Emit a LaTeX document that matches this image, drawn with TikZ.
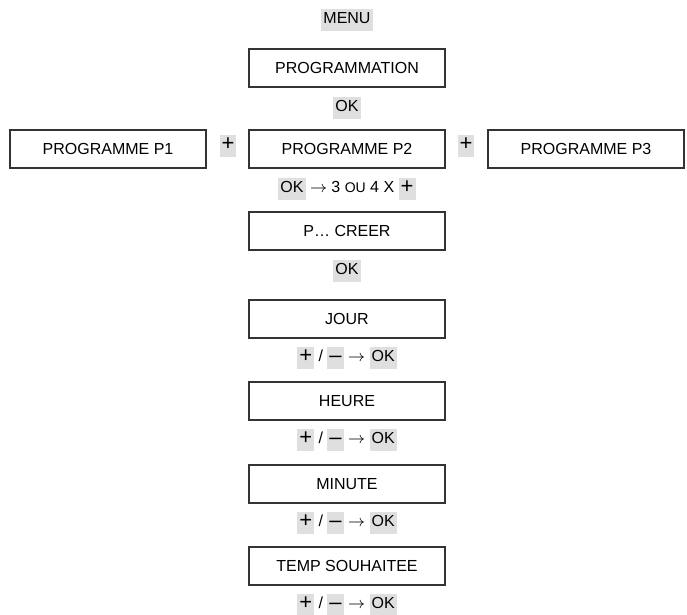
\documentclass[tikz,border=0pt]{standalone}
\usepackage{fontspec}
\setmainfont{Liberation Sans}
\newcommand{\keycap}[1]{{\setlength{\fboxsep}{1pt}\colorbox{gray!25}{\strut #1}}}
\newcommand{\bigsign}[1]{\keycap{\raisebox{-0.5pt}{\fontsize{11}{11}\selectfont #1}}}
\begin{document}
\begin{tikzpicture}[x=0.5pt,y=-0.5pt,
  font=\fontsize{8}{9}\selectfont,
  stepbox/.style={draw=black!80,line width=0.55pt,minimum width=98pt,minimum height=19pt,inner sep=0pt},
  lbl/.style={inner sep=0pt}]
\useasboundingbox (0,0) rectangle (687,615);
\node[lbl] (menu) at (347,20) {\keycap{MENU}};
\node[stepbox] (prog) at (347,68) {PROGRAMMATION};
\node[lbl] (ok1) at (347,108) {\keycap{OK}};
\node[stepbox] (p2) at (347,149) {PROGRAMME P2};
\node[stepbox] (p1) at (108,149) {PROGRAMME P1};
\node[stepbox] (p3) at (586,149) {PROGRAMME P3};
\node[lbl] (pl1) at (228,146) {\bigsign{+}};
\node[lbl] (pl2) at (466,146) {\bigsign{+}};
\node[lbl] (sel) at (347,189) {\keycap{OK} $\rightarrow$ 3 {\scriptsize OU} 4 X \bigsign{+}};
\node[stepbox] (creer) at (347,231) {P\dots\ CREER};
\node[lbl] (ok2) at (347,271) {\keycap{OK}};
\foreach \name/\txt/\y in {jour/JOUR/319, heure/HEURE/401, minute/MINUTE/484, temp/TEMP SOUHAITEE/566} {
  \node[stepbox] (\name) at (347,\y) {\txt};
  \node[lbl] (set-\name) at (347,\y+39) {\bigsign{+} / \bigsign{--} $\rightarrow$ \keycap{OK}};
}
\end{tikzpicture}
\end{document}
